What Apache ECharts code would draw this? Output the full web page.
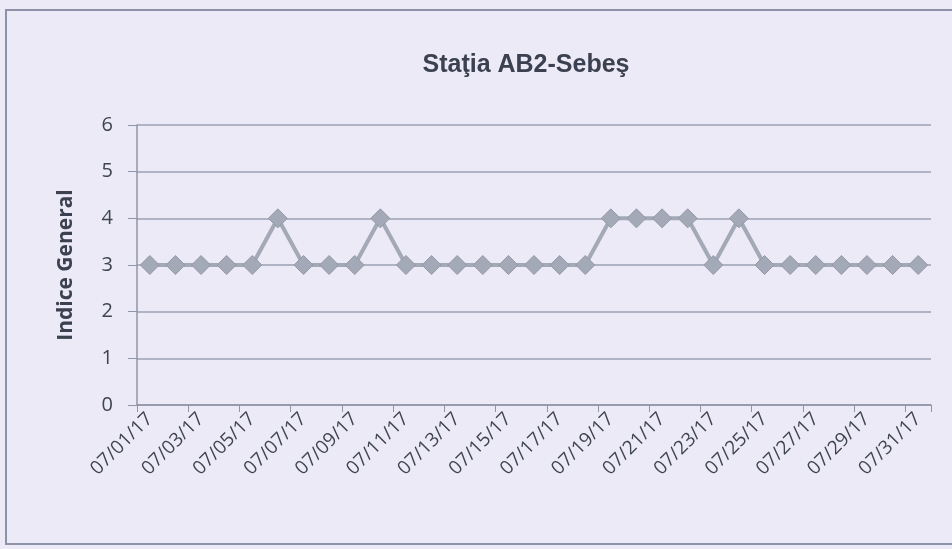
<!DOCTYPE html>
<html>
<head>
<meta charset="utf-8">
<script src="https://cdn.jsdelivr.net/npm/echarts@6/dist/echarts.min.js"></script>
<style>
html, body { margin: 0; padding: 0; background: #eceaf6; }
#main { width: 952px; height: 549px; }
</style>
</head>
<body>
<div id="main"></div>
<script>
var chart = echarts.init(document.getElementById("main"));

// zilele lunii iulie 2017
var dates = [];
for (var d = 1; d <= 31; d++) {
	dates.push("07/" + (d < 10 ? "0" + d : d) + "/17");
}
// indice general
var indice = [3, 3, 3, 3, 3, 4, 3, 3, 3, 4,
	3, 3, 3, 3, 3, 3, 3, 3, 4, 4,
	4, 4, 3, 4, 3, 3, 3, 3, 3, 3, 3];
var yTicks = [0, 1, 2, 3, 4, 5, 6];

var option = {
	backgroundColor: '#eceaf6',
	animation: false,
	title: {
		text: 'Staţia AB2-Sebeş',
		left: 521,
		textAlign: 'center',
		top: 48,
		textStyle: {
			color: '#3b4150',
			fontFamily: 'Liberation Sans',
			fontWeight: 'bold',
			fontSize: 25
		}
	},
	graphic: [{
		type: 'rect',
		shape: { x: 6, y: 10, width: 950, height: 534 },
		style: { fill: 'none', stroke: '#8e92a8', lineWidth: 2 },
		silent: true
	}],
	grid: {
		left: 137,
		right: 21,
		top: 125,
		bottom: 144
	},
	xAxis: {
		type: 'category',
		data: dates,
		boundaryGap: true,
		axisLine: { lineStyle: { color: '#8f94a6', width: 1.5 } },
		axisTick: { show: true, interval: 1, length: 7, lineStyle: { color: '#8f94a6' } },
		axisLabel: {
			interval: 1,
			rotate: 45,
			color: '#3f4452',
			fontFamily: 'Open Sans',
			fontSize: 19,
			margin: 11
		}
	},
	yAxis: {
		type: 'value',
		min: 0,
		max: 6,
		interval: 1,
		name: 'Indice General',
		nameLocation: 'middle',
		nameGap: 60,
		nameTextStyle: {
			color: '#3b4150',
			fontFamily: 'Open Sans',
			fontWeight: 'bold',
			fontSize: 21
		},
		axisLine: { show: true, lineStyle: { color: '#8f94a6', width: 1.5 } },
		axisTick: { show: true, length: 9, lineStyle: { color: '#8f94a6' } },
		axisLabel: {
			color: '#3f4452',
			fontFamily: 'Open Sans',
			fontSize: 20,
			margin: 24,
			formatter: function (v) { return yTicks.indexOf(v) >= 0 ? v : ''; }
		},
		splitLine: { lineStyle: { color: '#9da1b3', width: 1.5 } }
	},
	series: [{
		type: 'line',
		data: indice,
		showAllSymbol: true,
		symbol: 'diamond',
		symbolSize: 19,
		lineStyle: { color: '#a3a9b6', width: 4 },
		itemStyle: { color: '#a3a9b6', borderColor: '#9399a8', borderWidth: 1 }
	}]
};
chart.setOption(option);
</script>
</body>
</html>
